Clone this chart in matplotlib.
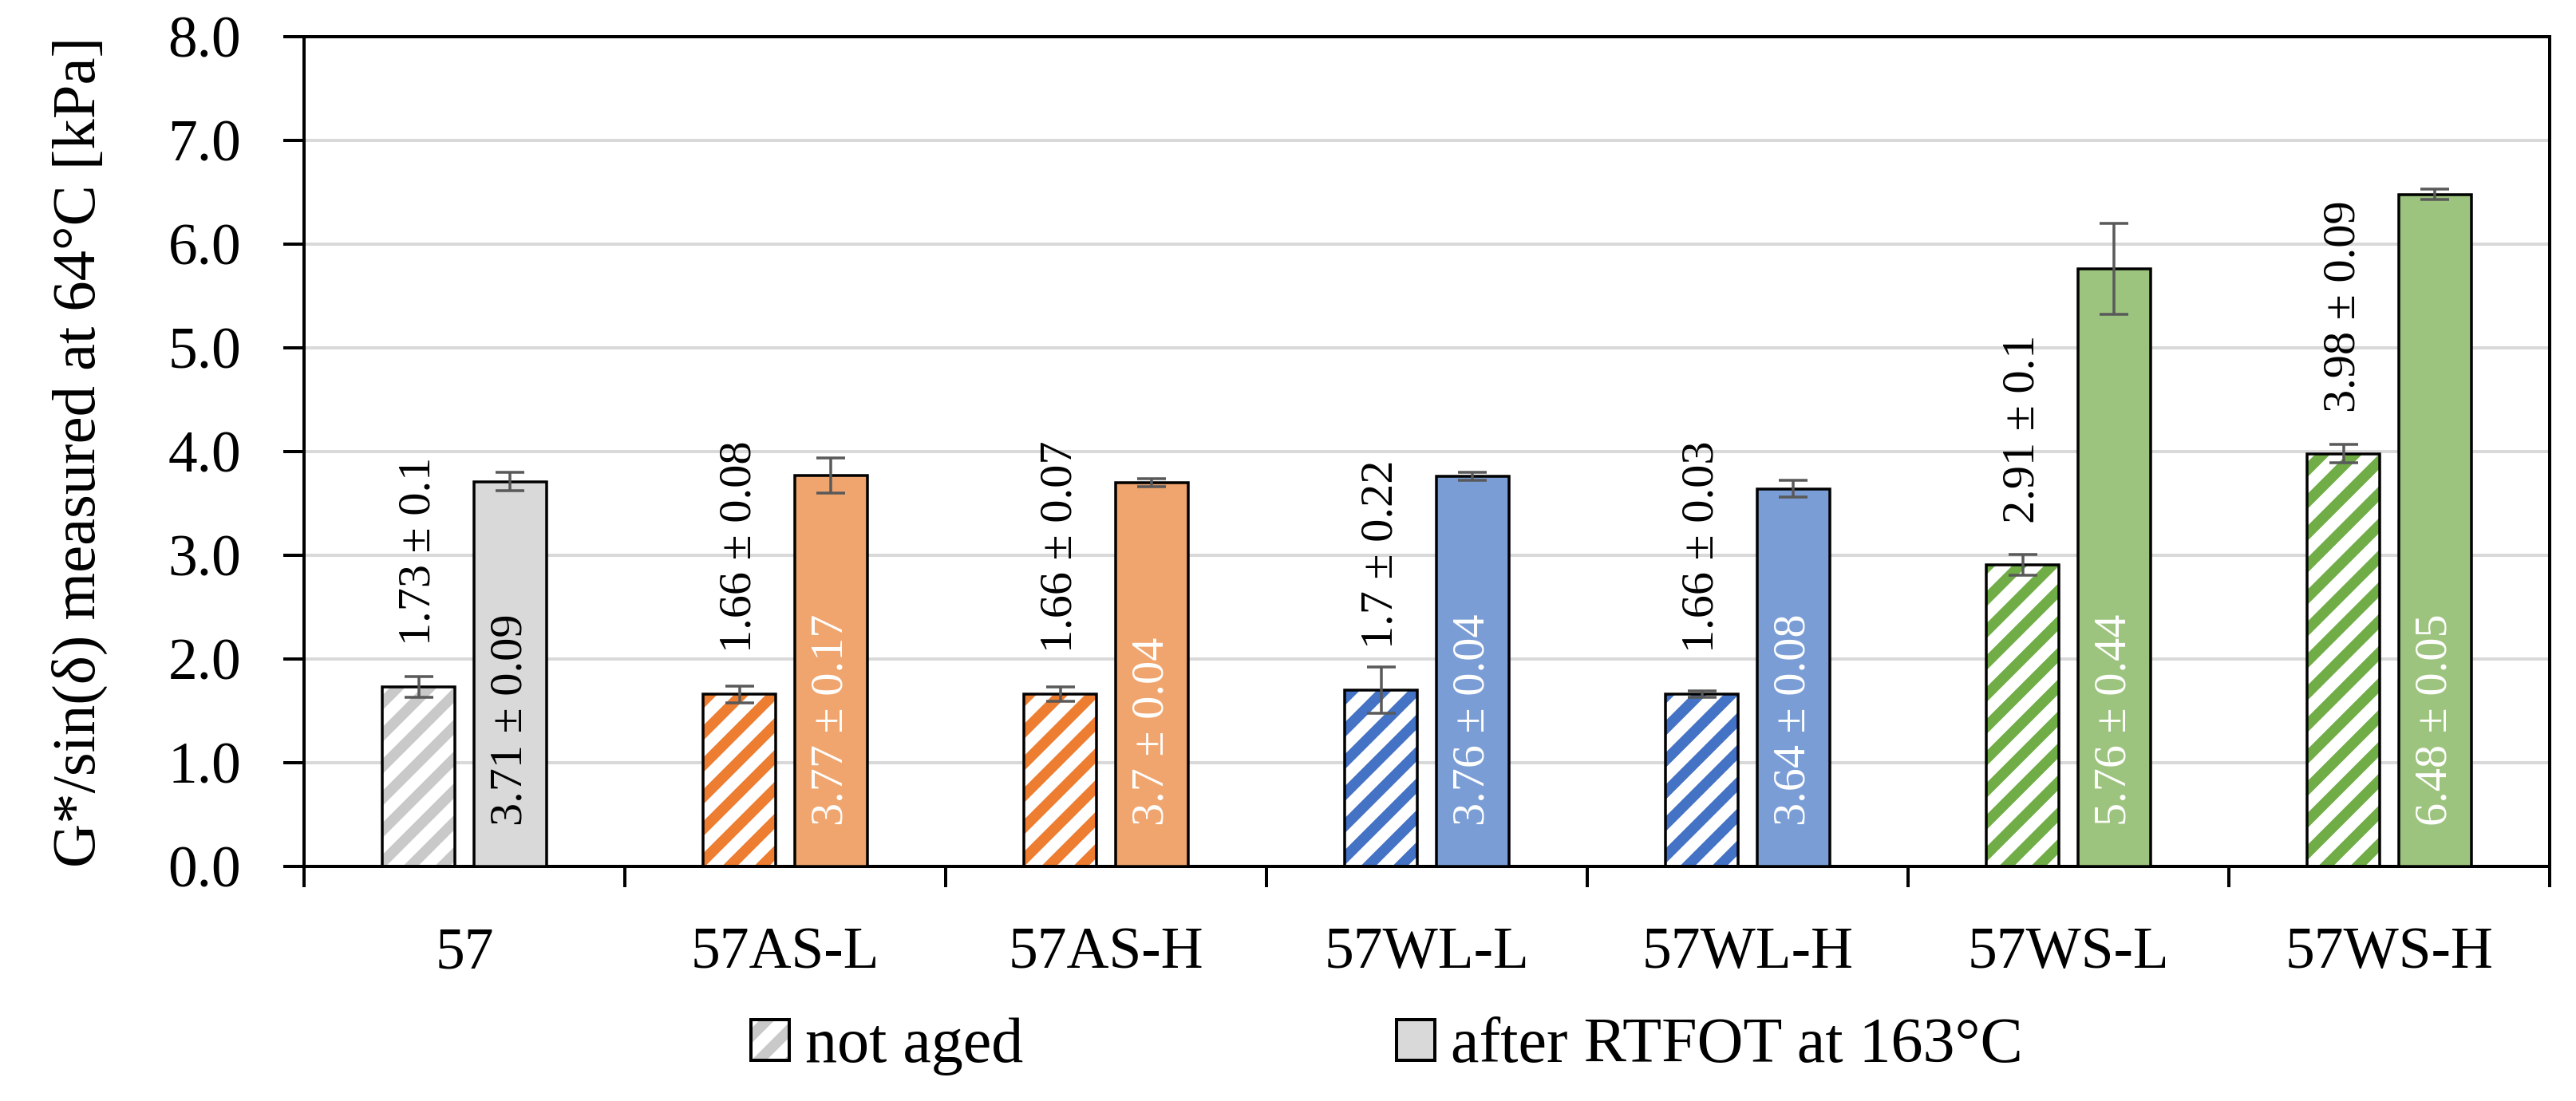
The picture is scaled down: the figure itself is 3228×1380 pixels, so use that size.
import matplotlib
matplotlib.use('Agg')
import matplotlib.pyplot as plt
import numpy as np
from matplotlib.patches import Patch
from matplotlib.ticker import FormatStrFormatter

categories = ['57', '57AS-L', '57AS-H', '57WL-L', '57WL-H', '57WS-L', '57WS-H']
not_aged = [1.73, 1.66, 1.66, 1.7, 1.66, 2.91, 3.98]
not_aged_sd = [0.1, 0.08, 0.07, 0.22, 0.03, 0.1, 0.09]
rtfot = [3.71, 3.77, 3.7, 3.76, 3.64, 5.76, 6.48]
rtfot_sd = [0.09, 0.17, 0.04, 0.04, 0.08, 0.44, 0.05]
stripe_colors = ['#C9C9C9', '#ED7D31', '#ED7D31', '#4472C4', '#4472C4', '#70AD47', '#70AD47']
fill_colors = ['#D9D9D9', '#F0A56E', '#F0A56E', '#7A9DD6', '#7A9DD6', '#9DC47E', '#9DC47E']
inside_label_colors = ['black', 'white', 'white', 'white', 'white', 'white', 'white']
legend_labels = ['not aged', 'after RTFOT at 163°C']
ylabel = 'G*/sin(δ) measured at 64°C [kPa]'

DPI = 240
W, H = 3228, 1380
PX = 72.0 / DPI  # points per pixel

plt.rcParams['font.family'] = ['Liberation Serif', 'DejaVu Serif']
plt.rcParams['hatch.linewidth'] = 4.0

fig = plt.figure(figsize=(W / DPI, H / DPI), dpi=DPI)
ax = fig.add_axes([381 / W, 1 - 1086 / H, (3195 - 381) / W, (1086 - 46) / H])

x = np.arange(len(categories))
off = 0.142
bw = 0.226
HATCH = '//'

ax.set_axisbelow(True)
ax.yaxis.grid(True, color='#D9D9D9', linewidth=4 * PX)

# not aged: hatched bars
ax.bar(x - off, not_aged, bw, color='white', edgecolor=stripe_colors, hatch=HATCH,
       linewidth=0, zorder=2)
ax.bar(x - off, not_aged, bw, facecolor='none', edgecolor='black',
       linewidth=3.5 * PX, zorder=3)
# after RTFOT: filled bars
ax.bar(x + off, rtfot, bw, color=fill_colors, edgecolor='black',
       linewidth=3.5 * PX, zorder=3)

ax.errorbar(x - off, not_aged, yerr=not_aged_sd, fmt='none', ecolor='#595959',
            elinewidth=3.5 * PX, capsize=18 * PX, capthick=3.5 * PX, zorder=4)
ax.errorbar(x + off, rtfot, yerr=rtfot_sd, fmt='none', ecolor='#595959',
            elinewidth=3.5 * PX, capsize=18 * PX, capthick=3.5 * PX, zorder=4)

for i in range(len(categories)):
    ax.text(x[i] - off, not_aged[i] + 0.40, f'{not_aged[i]:g} ± {not_aged_sd[i]:g}',
            rotation=90, ha='center', va='bottom', fontsize=17.5, color='black', zorder=5)
    ax.text(x[i] + off, 0.39, f'{rtfot[i]:g} ± {rtfot_sd[i]:g}',
            rotation=90, ha='center', va='bottom', fontsize=17.5,
            color=inside_label_colors[i], zorder=5)

ax.set_ylim(0, 8)
ax.set_yticks(np.arange(0, 8.5, 1.0))
ax.yaxis.set_major_formatter(FormatStrFormatter('%.1f'))
ax.tick_params(axis='y', direction='out', length=26 * PX, width=4 * PX,
               pad=53 * PX, labelsize=22)

ax.set_xlim(-0.5, len(categories) - 0.5)
ax.set_xticks(x)
ax.set_xticklabels(categories)
ax.set_xticks(np.arange(-0.5, len(categories), 1.0), minor=True)
ax.tick_params(axis='x', which='major', length=0, pad=76 * PX, labelsize=22)
ax.tick_params(axis='x', which='minor', direction='out', length=26 * PX, width=4 * PX)

for sp in ax.spines.values():
    sp.set_linewidth(4 * PX)
    sp.set_color('black')

fig.text(100 / W, 1 - 566 / H, ylabel, rotation=90, ha='center', va='center', fontsize=23)

h1 = (Patch(facecolor='white', edgecolor=stripe_colors[0], hatch=HATCH, linewidth=0),
      Patch(facecolor='none', edgecolor='black', linewidth=4 * PX))
h2 = Patch(facecolor=fill_colors[0], edgecolor='black', linewidth=4 * PX)
common = dict(fontsize=24, frameon=False, handlelength=0.6, handleheight=0.6,
              handletextpad=0.25, borderpad=0, borderaxespad=0, loc='center left')
fig.legend([h1], [legend_labels[0]], bbox_to_anchor=(941 / W, 1 - 1312 / H), **common)
fig.legend([h2], [legend_labels[1]], bbox_to_anchor=(1750 / W, 1 - 1312 / H), **common)

fig.savefig('out.png', dpi=DPI)
